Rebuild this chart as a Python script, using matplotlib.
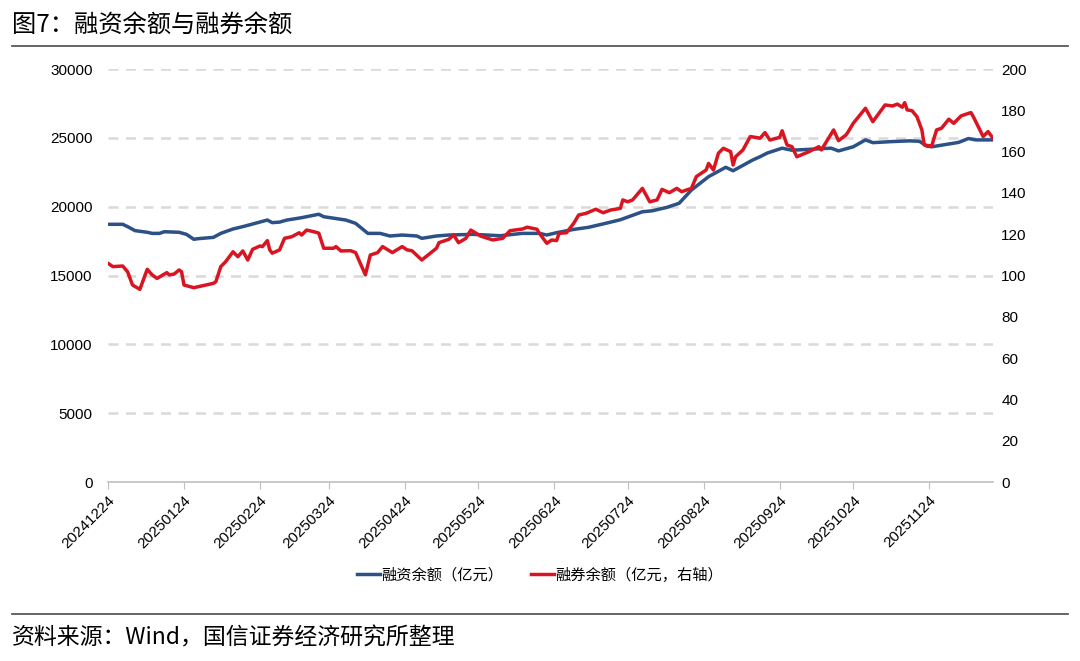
import numpy as np
import pandas as pd
import matplotlib
matplotlib.use("Agg")
from matplotlib import pyplot as plt
from matplotlib.lines import Line2D

plt.rcParams['font.family'] = ['Liberation Sans', 'Noto Sans CJK SC', 'DejaVu Sans']

# 融资余额 (亿元), left axis
fin_dates = ['20241224', '20241230', '20250101', '20250104', '20250109', '20250111', '20250114',
             '20250116', '20250122', '20250125', '20250128', '20250130', '20250205', '20250208',
             '20250213', '20250217', '20250221', '20250227', '20250301', '20250304', '20250307',
             '20250313', '20250320', '20250322', '20250331', '20250404', '20250409', '20250414',
             '20250418', '20250423', '20250429', '20250501', '20250507', '20250512', '20250522',
             '20250602', '20250611', '20250618', '20250621', '20250625', '20250702', '20250708',
             '20250715', '20250721', '20250730', '20250803', '20250809', '20250814', '20250819',
             '20250826', '20250902', '20250905', '20250913', '20250916', '20250919', '20250925',
             '20250929', '20251015', '20251018', '20251024', '20251029', '20251101', '20251109',
             '20251116', '20251120', '20251123', '20251125', '20251206', '20251210', '20251213',
             '20251220']
fin_values = [18720, 18720, 18550, 18260, 18140, 18060, 18060,
              18180, 18140, 17990, 17630, 17680, 17770, 18060,
              18380, 18550, 18740, 19030, 18840, 18880, 19030,
              19200, 19450, 19270, 19030, 18790, 18060, 18060,
              17870, 17940, 17870, 17700, 17870, 17940, 17990,
              17890, 18060, 18060, 17940, 18110, 18350, 18500,
              18790, 19050, 19630, 19700, 19950, 20250, 21210,
              22180, 22860, 22610, 23390, 23630, 23900, 24250,
              24100, 24250, 24050, 24350, 24850, 24650, 24730,
              24780, 24750, 24400, 24350, 24670, 24950, 24850,
              24850]

# 融券余额 (亿元), right axis
sec_dates = ['20241224', '20241226', '20241230', '20250101', '20250103', '20250106', '20250109',
             '20250111', '20250113', '20250117', '20250118', '20250120', '20250122', '20250123',
             '20250124', '20250128', '20250205', '20250206', '20250208', '20250210', '20250213',
             '20250215', '20250217', '20250219', '20250221', '20250224', '20250225', '20250227',
             '20250228', '20250301', '20250304', '20250306', '20250309', '20250312', '20250313',
             '20250315', '20250318', '20250320', '20250322', '20250326', '20250327', '20250329',
             '20250402', '20250404', '20250408', '20250410', '20250413', '20250415', '20250419',
             '20250423', '20250425', '20250427', '20250501', '20250507', '20250508', '20250512',
             '20250514', '20250516', '20250519', '20250521', '20250525', '20250530', '20250603',
             '20250606', '20250611', '20250613', '20250617', '20250618', '20250621', '20250623',
             '20250625', '20250626', '20250629', '20250702', '20250704', '20250707', '20250711',
             '20250714', '20250717', '20250721', '20250722', '20250724', '20250726', '20250730',
             '20250802', '20250805', '20250807', '20250810', '20250813', '20250815', '20250819',
             '20250821', '20250825', '20250826', '20250828', '20250830', '20250901', '20250904',
             '20250905', '20250906', '20250909', '20250912', '20250916', '20250918', '20250920',
             '20250924', '20250925', '20250927', '20250929', '20251001', '20251006', '20251010',
             '20251011', '20251016', '20251018', '20251021', '20251022', '20251024', '20251029',
             '20251101', '20251106', '20251109', '20251111', '20251113', '20251114', '20251115',
             '20251117', '20251119', '20251121', '20251122', '20251125', '20251127', '20251129',
             '20251202', '20251204', '20251207', '20251211', '20251212', '20251216', '20251218',
             '20251220']
sec_values = [105.9, 104.3, 104.6, 101.8, 95.4, 93.3, 103.0,
              100.3, 98.6, 101.4, 100.3, 100.7, 102.7, 101.8,
              95.4, 94.1, 96.2, 97.0, 104.3, 106.7, 111.5,
              109.1, 111.9, 107.5, 112.7, 114.3, 114.0, 116.9,
              112.4, 110.8, 112.4, 118.0, 118.8, 120.7, 119.6,
              122.0, 121.2, 120.5, 113.2, 113.2, 114.0, 111.9,
              112.0, 111.1, 100.3, 109.9, 111.1, 114.0, 111.1,
              114.0, 112.4, 112.0, 107.5, 113.2, 115.9, 117.5,
              119.6, 115.9, 118.0, 122.0, 119.1, 117.2, 118.0,
              121.7, 122.5, 123.4, 122.4, 120.4, 115.6, 117.2,
              116.9, 120.4, 120.7, 125.3, 129.3, 130.1, 132.1,
              130.4, 131.7, 132.5, 136.6, 135.7, 136.6, 142.2,
              135.7, 136.6, 141.7, 140.1, 142.2, 140.6, 142.2,
              147.9, 151.1, 154.3, 151.1, 159.2, 161.6, 160.0,
              153.5, 157.5, 160.8, 167.3, 166.5, 169.2, 165.6,
              166.9, 170.1, 163.2, 162.4, 157.5, 160.0, 162.4,
              160.8, 170.5, 165.3, 168.0, 169.7, 173.7, 181.0,
              174.5, 182.6, 182.1, 183.0, 181.5, 183.7, 180.2,
              179.8, 176.9, 170.5, 163.2, 162.7, 170.5, 171.3,
              175.7, 173.7, 177.3, 178.9, 176.9, 167.3, 169.7,
              166.5]

tick_dates = ['20241224', '20250124', '20250224', '20250324', '20250424', '20250524',
              '20250624', '20250724', '20250824', '20250924', '20251024', '20251124']

fin_x = pd.to_datetime(fin_dates, format='%Y%m%d')
sec_x = pd.to_datetime(sec_dates, format='%Y%m%d')
ticks = pd.to_datetime(tick_dates, format='%Y%m%d')

blue = '#2B5186'
red = '#DA1522'
grid_c = '#D9D9D9'
cjk = ['Noto Sans CJK SC', 'DejaVu Sans']

fig = plt.figure(figsize=(10.8, 6.61), dpi=100)
ax = fig.add_axes([0.1, 0.2708, 0.8194, 0.6248])
ax2 = ax.twinx()

for y in range(5000, 30001, 5000):
    ax.axhline(y, color=grid_c, lw=1.8, ls=(0, (4, 3)), zorder=0)

ax.plot(fin_x, fin_values, color=blue, lw=2.5, zorder=3)
ax2.plot(sec_x, sec_values, color=red, lw=2.5, zorder=3)

ax.set_ylim(0, 30000)
ax2.set_ylim(0, 200)
ax.set_yticks(range(0, 30001, 5000))
ax2.set_yticks(range(0, 201, 20))
ax.set_xlim(ticks[0], pd.Timestamp('2025-12-20'))

ax.set_xticks(ticks)
ax.set_xticklabels(tick_dates, rotation=45, ha='right', rotation_mode='anchor')
ax.xaxis.set_minor_locator(plt.NullLocator())

for a in (ax, ax2):
    for s in ('top', 'left', 'right', 'bottom'):
        a.spines[s].set_visible(False)
ax.spines['bottom'].set_visible(True)
ax.spines['bottom'].set_color('#BFBFBF')
ax.spines['bottom'].set_linewidth(1.2)

ax.tick_params(axis='x', length=5, color='#BFBFBF', labelsize=11, pad=3)
ax.tick_params(axis='y', length=0, labelsize=11, pad=11)
ax2.tick_params(axis='y', length=0, labelsize=11, pad=6)

# title and source
fig.text(0.011, 0.962, '图7：融资余额与融券余额', fontsize=17.5, fontweight='medium',
         va='center', ha='left', family=cjk)
fig.add_artist(Line2D([0.011, 0.989], [0.930, 0.930], color='#595959', lw=1.3))
fig.add_artist(Line2D([0.011, 0.989], [0.071, 0.071], color='#595959', lw=1.3))
fig.text(0.011, 0.035, '资料来源：Wind，国信证券经济研究所整理', fontsize=16.5, va='center',
         ha='left', family=cjk)

handles = [Line2D([], [], color=blue, lw=2.5), Line2D([], [], color=red, lw=2.5)]
fig.legend(handles, ['融资余额（亿元）', '融券余额（亿元，右轴）'], loc='center',
           bbox_to_anchor=(0.5, 0.13), ncol=2, frameon=False, handlelength=1.5,
           handletextpad=0.1, columnspacing=1.8,
           prop={'family': cjk, 'size': 11})

fig.savefig('out.png', dpi=100)
